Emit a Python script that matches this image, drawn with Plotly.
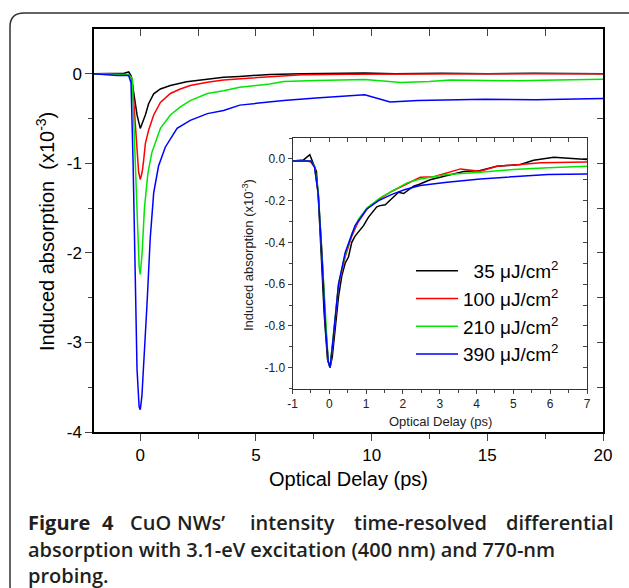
import plotly.graph_objects as go

# ---- main panel data (x10^-3) ----
colors = ["#000000", "#ff0000", "#00e600", "#0000ff"]

main_x_35 = [-2, -1.5, -1, -0.7, -0.5, -0.4, -0.29, -0.14, 0, 0.1, 0.22, 0.36, 0.58, 0.87, 1.3, 2.0, 2.9, 3.6, 4.3,
             5.6, 7, 8.5, 9.7, 11, 13, 15, 17, 20]
main_y_35 = [0, 0, 0, 0.005, 0.02, -0.02, -0.2, -0.46, -0.61, -0.55, -0.46, -0.335, -0.224, -0.17, -0.13, -0.088,
             -0.059, -0.04, -0.03, -0.007, 0, 0.005, 0.01, 0, 0.005, 0, 0.005, 0]

main_x_100 = [-2, -1, -0.5, -0.35, -0.25, -0.15, -0.07, 0, 0.08, 0.14, 0.22, 0.36, 0.58, 0.87, 1.3, 1.73, 2.16, 2.9,
              3.6, 4.5, 5.6, 7, 9, 12, 15, 18, 20]
main_y_100 = [0, -0.005, -0.01, -0.05, -0.45, -0.85, -1.1, -1.18, -1.1, -0.98, -0.78, -0.63, -0.46, -0.32, -0.22,
              -0.17, -0.13, -0.095, -0.07, -0.052, -0.035, -0.01, -0.005, 0, 0, 0, 0]

main_x_210 = [-2, -1, -0.5, -0.35, -0.28, -0.2, -0.12, -0.05, 0, 0.08, 0.18, 0.33, 0.5, 0.65, 0.87, 1.3, 1.73, 2.16,
              2.9, 3.6, 4.3, 5.6, 6.2, 7.6, 9.7, 10.5, 11.25, 12.5, 13.4, 15, 16.3, 18, 20]
main_y_210 = [0, -0.01, -0.01, -0.05, -0.5, -1.1, -1.7, -2.15, -2.24, -2.0, -1.5, -1.11, -0.88, -0.76, -0.61, -0.46,
              -0.37, -0.30, -0.22, -0.19, -0.15, -0.114, -0.085, -0.075, -0.063, -0.08, -0.096, -0.085, -0.07,
              -0.075, -0.077, -0.07, -0.06]

main_x_390 = [-2, -1.5, -1, -0.5, -0.4, -0.31, -0.22, -0.14, -0.05, 0, 0.07, 0.14, 0.29, 0.43, 0.58, 0.79, 1.08,
              1.59, 2.16, 2.9, 3.6, 4.3, 5.6, 6.2, 7.6, 9.7, 10.8, 12.0, 14.9, 17.1, 20]
main_y_390 = [0, -0.01, -0.02, -0.02, -0.1, -1.0, -2.2, -3.3, -3.72, -3.75, -3.6, -3.31, -2.58, -1.84, -1.33, -1.03,
              -0.82, -0.61, -0.52, -0.445, -0.41, -0.35, -0.31, -0.298, -0.27, -0.235, -0.316, -0.298, -0.285,
              -0.29, -0.276]

# ---- inset data (normalized) ----
ins_x_35 = [-1, -0.7, -0.53, -0.44, -0.35, -0.3, -0.23, -0.14, -0.05, 0.02, 0.08, 0.15, 0.25, 0.34, 0.43, 0.52,
            0.61, 0.7, 0.79, 0.93, 1.06, 1.15, 1.29, 1.38, 1.52, 1.7, 1.88, 2.02, 2.15, 2.29, 2.43, 2.74, 3.2,
            3.65, 4.1, 4.55, 5.19, 5.55, 6.1, 6.65, 7]
ins_y_35 = [-0.01, -0.005, 0.02, -0.02, -0.06, -0.18, -0.42, -0.74, -0.96, -1.0, -0.95, -0.82, -0.66, -0.56, -0.50,
            -0.47, -0.40, -0.37, -0.35, -0.32, -0.28, -0.26, -0.23, -0.224, -0.22, -0.19, -0.16, -0.166, -0.147,
            -0.131, -0.123, -0.1, -0.08, -0.06, -0.056, -0.035, -0.027, -0.007, 0.008, 0.0, -0.003]

ins_x_100 = [-1, -0.6, -0.5, -0.4, -0.3, -0.2, -0.1, -0.03, 0.02, 0.1, 0.25, 0.43, 0.61, 0.79, 1.02, 1.34, 1.7,
             2.06, 2.25, 2.47, 2.84, 3.2, 3.56, 4.1, 4.55, 5.19, 5.74, 7]
ins_y_100 = [-0.01, -0.01, -0.015, -0.04, -0.17, -0.45, -0.8, -0.97, -1.0, -0.88, -0.61, -0.47, -0.37, -0.30,
             -0.24, -0.195, -0.155, -0.123, -0.107, -0.088, -0.086, -0.067, -0.048, -0.059, -0.035, -0.027,
             -0.019, -0.015]

ins_x_210 = [-1, -0.6, -0.5, -0.4, -0.3, -0.2, -0.1, -0.03, 0.02, 0.1, 0.25, 0.43, 0.61, 0.79, 1.02, 1.38, 1.75,
             2.11, 2.47, 3.2, 4.1, 5.0, 5.94, 7]
ins_y_210 = [-0.01, -0.01, -0.01, -0.035, -0.16, -0.46, -0.8, -0.97, -1.0, -0.87, -0.6, -0.46, -0.36, -0.29,
             -0.235, -0.187, -0.15, -0.115, -0.096, -0.075, -0.064, -0.051, -0.043, -0.035]

ins_x_390 = [-1, -0.6, -0.5, -0.4, -0.3, -0.2, -0.1, -0.03, 0.02, 0.1, 0.25, 0.43, 0.7, 1.02, 1.34, 1.7, 2.06,
             2.47, 3.2, 4.1, 5.0, 5.94, 7]
ins_y_390 = [-0.01, -0.01, -0.01, -0.04, -0.17, -0.47, -0.82, -0.97, -1.0, -0.87, -0.6, -0.45, -0.32, -0.24, -0.2,
             -0.17, -0.147, -0.128, -0.112, -0.096, -0.086, -0.075, -0.072]

# tick labels (plain hyphen minus, as in the original)
main_xticks = [0, 5, 10, 15, 20]
main_yticks = [0, -1, -2, -3, -4]
main_yticktext = ["0", "-1", "-2", "-3", "-4"]
ins_xticks = [-1, 0, 1, 2, 3, 4, 5, 6, 7]
ins_xticktext = ["-1", "0", "1", "2", "3", "4", "5", "6", "7"]
ins_yticks = [0.0, -0.2, -0.4, -0.6, -0.8, -1.0]
ins_yticktext = ["0.0", "-0.2", "-0.4", "-0.6", "-0.8", "-1.0"]

main_series = [(main_x_35, main_y_35), (main_x_100, main_y_100), (main_x_210, main_y_210), (main_x_390, main_y_390)]
inset_series = [(ins_x_35, ins_y_35), (ins_x_100, ins_y_100), (ins_x_210, ins_y_210), (ins_x_390, ins_y_390)]
legend_names = ["\u200735 μJ/cm<sup>2</sup>", "100 μJ/cm<sup>2</sup>", "210 μJ/cm<sup>2</sup>", "390 μJ/cm<sup>2</sup>"]

W, H = 629, 588
L, R, T, B = 94, 603, 29, 432


def px(x):
    return (x - L) / (R - L)


def py(y):
    return (B - y) / (B - T)


FONT = "Liberation Sans, Arial, sans-serif"
fig = go.Figure()

for (xs, ys), c in zip(main_series, colors):
    fig.add_trace(go.Scatter(x=xs, y=ys, mode="lines", line=dict(color=c, width=1.5),
                             showlegend=False, xaxis="x", yaxis="y"))

for (xs, ys), c, n in zip(inset_series, colors, legend_names):
    fig.add_trace(go.Scatter(x=xs, y=ys, mode="lines", line=dict(color=c, width=1.5),
                             name=n, xaxis="x2", yaxis="y2"))

# empty traces so the inward-tick frame axes get drawn
fig.add_trace(go.Scatter(x=[], y=[], xaxis="x3", yaxis="y3", showlegend=False, hoverinfo="skip"))
fig.add_trace(go.Scatter(x=[], y=[], xaxis="x4", yaxis="y4", showlegend=False, hoverinfo="skip"))

tickfont_main = dict(family=FONT, size=17, color="black")
tickfont_ins = dict(family=FONT, size=12, color="#222")

fig.update_layout(
    width=W, height=H,
    margin=dict(l=L, r=W - R, t=T, b=H - B),
    paper_bgcolor="white", plot_bgcolor="rgba(0,0,0,0)",
    xaxis=dict(domain=[0, 1], range=[-2, 20], tickvals=main_xticks, ticks="outside", ticklen=7,
               tickwidth=1.2, minor=dict(tickvals=[2.5, 7.5, 12.5, 17.5], ticks="outside", ticklen=5),
               showline=True, linecolor="black", linewidth=1.5, mirror=True, showgrid=False, zeroline=False,
               tickfont=tickfont_main, anchor="y"),
    yaxis=dict(domain=[0, 1], range=[-4, 0.5], tickvals=main_yticks, ticktext=main_yticktext, ticks="outside",
               ticklen=7, tickwidth=1.2, minor=dict(tickvals=[-0.5, -1.5, -2.5, -3.5], ticks="outside", ticklen=4),
               showline=True, linecolor="black", linewidth=1.5, mirror=True, showgrid=False, zeroline=False,
               tickfont=tickfont_main, anchor="x"),
    xaxis3=dict(overlaying="x", side="top", anchor="y3", range=[-2, 20], tickvals=[0, 2.5, 5, 7.5, 10, 12.5, 15, 17.5],
                ticks="inside", ticklen=7, tickwidth=1.2, showticklabels=False, showgrid=False, zeroline=False,
                showline=False),
    yaxis3=dict(overlaying="y", side="right", anchor="x3", range=[-4, 0.5], tickvals=[0, -0.5, -1, -1.5, -2, -2.5, -3, -3.5],
                ticks="inside", ticklen=6, tickwidth=1.2, showticklabels=False, showgrid=False, zeroline=False,
                showline=False),
    xaxis2=dict(domain=[px(292.5), px(587)], range=[-1, 7], tickvals=ins_xticks, ticktext=ins_xticktext,
                ticks="outside", ticklen=4, minor=dict(dtick=0.5, ticks="outside", ticklen=3), showline=True,
                linecolor="#333", linewidth=1, mirror=True, showgrid=False, zeroline=False, tickfont=tickfont_ins,
                anchor="y2"),
    yaxis2=dict(domain=[py(388.5), py(138)], range=[-1.1, 0.1], tickvals=ins_yticks, ticktext=ins_yticktext,
                ticks="outside", ticklen=4, minor=dict(dtick=0.1, ticks="outside", ticklen=3), showline=True,
                linecolor="#333", linewidth=1, mirror=True, showgrid=False, zeroline=False, tickfont=tickfont_ins,
                anchor="x2"),
    xaxis4=dict(overlaying="x2", side="top", anchor="y4", range=[-1, 7], dtick=0.5, ticks="inside", ticklen=4,
                showticklabels=False, showgrid=False, zeroline=False, showline=False),
    yaxis4=dict(overlaying="y2", side="right", anchor="x4", range=[-1.1, 0.1], dtick=0.1, ticks="inside",
                ticklen=4, showticklabels=False, showgrid=False, zeroline=False, showline=False),
    legend=dict(x=px(411), y=py(252), xanchor="left", yanchor="top", bgcolor="rgba(0,0,0,0)",
                font=dict(family=FONT, size=19, color="black"), itemwidth=42, tracegroupgap=0),
)

annotations = [
    dict(text="Induced absorption  (x10<sup>-3</sup>)", x=px(45), y=py(232), textangle=-90,
         font=dict(family=FONT, size=20, color="black")),
    dict(text="Optical Delay (ps)", x=px(348), y=py(479), font=dict(family=FONT, size=20, color="black")),
    dict(text="Induced absorption (x10<sup>-3</sup>)", x=px(248), y=py(255), textangle=-90,
         font=dict(family=FONT, size=13, color="#222")),
    dict(text="Optical Delay (ps)", x=px(440), y=py(421), font=dict(family=FONT, size=13, color="#222")),
]
for a in annotations:
    fig.add_annotation(xref="paper", yref="paper", showarrow=False, xanchor="center", yanchor="middle", **a)

# caption: first line justified word by word
CAP = "Open Sans, sans-serif"
cap_color = "#231f20"
line1 = [("Figure", 26, 700), ("4", 100, 700), ("CuO", 128, 600), ("NWs’", 175, 600), ("intensity", 248, 600),
         ("time-resolved", 352, 600), ("differential", 504, 600)]
for word, xpos, wt in line1:
    fig.add_annotation(text=word, x=px(xpos), y=py(522), xref="paper", yref="paper", showarrow=False,
                       xanchor="left", yanchor="middle",
                       font=dict(family=CAP, size=20, color=cap_color, weight=wt))
fig.add_annotation(text="absorption with 3.1-eV excitation (400 nm) and 770-nm", x=px(26), y=py(549),
                   xref="paper", yref="paper", showarrow=False, xanchor="left", yanchor="middle",
                   font=dict(family=CAP, size=20, color=cap_color, weight=600))
fig.add_annotation(text="probing.", x=px(26), y=py(575), xref="paper", yref="paper", showarrow=False,
                   xanchor="left", yanchor="middle", font=dict(family=CAP, size=20, color=cap_color, weight=600))

# rounded frame around figure
x0, y0, x1, y1, r = 10, 13, 640, 600, 14
path = (f"M {px(x0)},{py(y0 + r)} L {px(x0)},{py(y1 - r)} Q {px(x0)},{py(y1)} {px(x0 + r)},{py(y1)} "
        f"L {px(x1)},{py(y1)} L {px(x1)},{py(y0)} L {px(x0 + r)},{py(y0)} Q {px(x0)},{py(y0)} {px(x0)},{py(y0 + r)}")
fig.add_shape(type="path", path=path, xref="paper", yref="paper", line=dict(color="#333", width=1.5))

fig.write_html("out.html", config={"displayModeBar": False},
               post_script="document.body.style.margin='0';")
